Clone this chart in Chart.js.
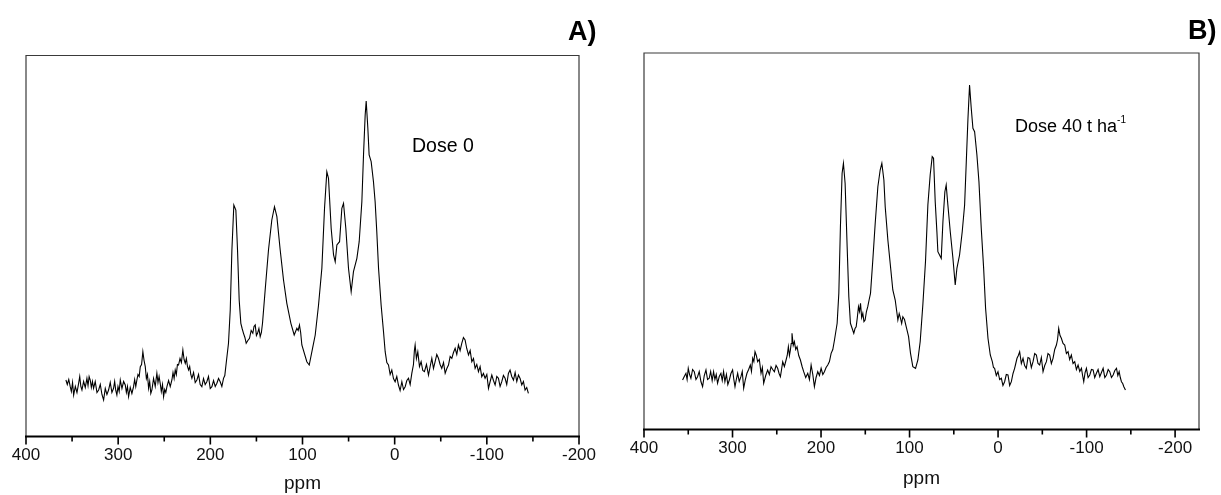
<!DOCTYPE html>
<html>
<head>
<meta charset="utf-8">
<script src="https://cdn.jsdelivr.net/npm/chart.js@4.4.0/dist/chart.umd.min.js"></script>
<style>
    body { margin: 0; background: #fff; }
    #wrap { position: relative; width: 1221px; height: 495px; font-family: "Liberation Sans", Arial, sans-serif; color: #000; }
    .panel { position: absolute; top: 0; height: 495px; }
    .note { position: absolute; white-space: nowrap; line-height: 1; }
    .tag { position: absolute; font-weight: bold; font-size: 27px; line-height: 1; }
    sup { font-size: 10px; vertical-align: 9px; }
</style>
</head>
<body>
<div id="wrap">
    <div class="panel" style="left:0;width:610px"><canvas id="chartA" width="610" height="495"></canvas></div>
    <div class="panel" style="left:610px;width:611px"><canvas id="chartB" width="611" height="495"></canvas></div>
    <div class="tag" style="left:568px;top:18px">A)</div>
    <div class="tag" style="left:1188px;top:17px">B)</div>
    <div class="note" style="left:412px;top:136px;font-size:19.5px">Dose 0</div>
    <div class="note" style="left:1015px;top:115px;font-size:18px">Dose 40 t ha<sup>-1</sup></div>
</div>
<script>
// x axis labels (ppm) and the shorter ticks between them
const xTicks = [400, 300, 200, 100, 0, -100, -200];
const xMinorTicks = [350, 250, 150, 50, -50, -150];

// panel A - Dose 0: [ppm, intensity (arbitrary units)]
const specA = [
    [356.7, 56.5], [355.2, 52], [353.6, 57], [352.0, 49.8], [350.8, 45], [349.5, 54], [348.3, 41.5], [346.5, 50], [344.7, 44], [342.9, 53.2],
    [341.7, 60], [340.5, 50], [339.3, 46.5], [337.5, 55], [335.7, 49], [333.9, 58.2], [332.7, 51], [331.5, 60], [330.3, 56.5], [329.1, 49],
    [327.9, 55], [326.7, 48.2], [324.9, 55], [323.0, 44], [321.2, 46.5], [319.4, 52], [317.6, 42], [315.8, 36.5], [314.0, 48], [312.2, 42],
    [310.4, 46.5], [308.6, 54], [306.8, 44], [305.0, 48.2], [303.8, 55], [302.6, 46], [301.4, 41.5], [300.2, 50], [298.9, 45], [297.7, 56.5],
    [295.9, 48], [294.1, 55], [292.3, 51.5], [291.1, 44], [289.9, 50], [288.7, 39.8], [286.9, 49], [285.1, 43], [283.3, 49.8], [282.1, 57],
    [280.9, 50], [279.7, 56.5], [278.5, 62], [277.2, 60], [276.0, 69.8], [274.6, 72], [273.2, 84.8], [271.9, 76], [270.6, 69.8], [269.4, 58],
    [268.2, 62], [267.0, 48.2], [265.8, 55], [264.6, 43], [263.4, 46.5], [261.6, 58], [259.8, 50], [258.0, 63.2], [256.8, 54], [255.6, 60],
    [254.4, 53.2], [253.2, 45], [251.9, 52], [250.7, 39.8], [249.5, 47], [248.3, 44], [247.1, 49.8], [245.3, 56], [243.5, 50], [241.7, 56.5],
    [240.5, 64], [239.3, 58], [238.1, 66.5], [236.9, 62], [235.7, 72], [234.5, 71.5], [232.9, 78], [231.4, 74], [229.8, 86.5], [228.5, 77],
    [227.2, 73.2], [226.0, 78], [224.8, 70], [223.6, 66.5], [222.4, 70], [221.2, 62], [220.0, 58.2], [218.2, 64], [216.4, 54], [214.6, 56.5],
    [212.8, 62], [211.0, 52], [209.2, 49.8], [207.4, 58], [205.6, 52], [203.8, 54.8], [202.0, 60], [200.1, 48], [198.3, 49.8], [196.5, 56],
    [194.7, 50], [192.9, 53.2], [191.1, 58], [189.3, 54.8], [187.5, 50], [185.7, 58.2], [184.3, 61], [182.8, 73.2], [180.3, 93.2], [178.4, 126.5],
    [176.6, 186.5], [174.5, 231.5], [172.3, 226.5], [170.5, 186.5], [168.7, 136.5], [166.9, 113.2], [165.5, 108], [164.0, 103.2], [162.5, 99], [161.1, 93.2],
    [159.3, 96], [157.5, 98.2], [155.7, 106], [153.9, 103.2], [152.6, 110], [151.3, 111.5], [150.0, 101], [148.8, 103.2], [147.3, 108], [145.9, 99.8],
    [144.6, 104], [143.4, 113.2], [140.5, 146.5], [136.9, 186.5], [133.3, 216.5], [130.4, 229.8], [127.8, 219.8], [124.2, 186.5], [120.6, 156.5], [117.0, 133.2],
    [112.6, 113.2], [109.0, 101.5], [106.1, 108.2], [104.7, 106], [103.3, 111.5], [102.0, 104], [100.7, 91.5], [95.3, 74.8], [92.7, 71.5], [89.1, 88.2],
    [86.2, 101.5], [82.6, 131.5], [79.0, 168.2], [76.1, 228.2], [73.6, 264.8], [71.8, 258.2], [68.9, 208.2], [66.3, 181.5], [64.5, 174.8], [62.7, 191.5],
    [59.8, 194.8], [57.3, 228.2], [55.5, 233.2], [53.0, 208.2], [50.1, 168.2], [47.2, 144.8], [44.7, 164.8], [41.0, 178.2], [38.5, 194.8], [35.6, 234.8],
    [33.8, 281.5], [32.0, 321.5], [30.9, 335.5], [29.1, 308.2], [27.7, 281.5], [25.5, 274.8], [23.0, 254.8], [21.2, 234.8], [19.4, 204.8], [17.5, 168.2],
    [14.7, 131.5], [12.1, 104.8], [10.3, 84.8], [8.5, 74], [6.7, 71.5], [4.9, 62], [3.1, 66.5], [1.3, 58], [-0.5, 54.8], [-2.3, 60],
    [-4.1, 51.5], [-5.9, 46], [-7.8, 54.8], [-9.6, 47], [-11.4, 49.8], [-13.2, 56], [-15.0, 58.2], [-16.8, 52], [-18.6, 63.2], [-20.4, 72],
    [-21.4, 86], [-22.2, 91.5], [-23.6, 78], [-25.1, 84.8], [-26.9, 70], [-28.7, 74.8], [-30.5, 66], [-32.3, 64.8], [-34.5, 72], [-36.7, 61.5],
    [-38.5, 70], [-40.3, 78.2], [-42.1, 68], [-43.9, 74.8], [-45.7, 82], [-47.5, 78.2], [-49.3, 72], [-51.1, 68.2], [-53.0, 74], [-54.8, 63.2],
    [-56.6, 68], [-58.4, 71.5], [-60.2, 80], [-62.0, 78.2], [-63.8, 84], [-65.6, 88.2], [-67.4, 82], [-69.2, 91.5], [-71.0, 86], [-72.8, 93.2],
    [-74.6, 99], [-76.4, 96.5], [-78.2, 88], [-80.1, 81.5], [-81.9, 86], [-83.7, 74.8], [-85.5, 78], [-87.3, 68.2], [-89.1, 72], [-90.9, 64.8],
    [-92.7, 70], [-94.5, 59.8], [-96.3, 63], [-98.1, 58.2], [-100.0, 62], [-101.8, 48.2], [-103.6, 55], [-105.4, 61.5], [-107.2, 56], [-109.0, 51.5],
    [-110.8, 60], [-112.6, 58.2], [-114.4, 50], [-116.2, 54.8], [-118.0, 61], [-119.8, 58.2], [-121.6, 52], [-123.4, 63], [-125.2, 66.5], [-127.0, 60],
    [-128.9, 56.5], [-130.7, 64], [-132.5, 55], [-134.3, 61.5], [-136.1, 58], [-137.9, 51.5], [-139.7, 55], [-141.5, 46.5], [-143.3, 49], [-145.1, 43.2]
];

// panel B - Dose 40 t ha-1: [ppm, intensity]
const specB = [
    [356.4, 49.5], [354.5, 53], [352.6, 56.2], [351.3, 50], [350.0, 61.2], [348.5, 55], [347.0, 51.2], [345.1, 60], [343.2, 57.8], [341.3, 50],
    [339.5, 52.8], [337.6, 58], [335.7, 48], [333.8, 42.8], [331.9, 54], [330.0, 59.5], [328.2, 50], [326.3, 51.2], [324.7, 58], [323.0, 49],
    [321.4, 57.8], [319.9, 50], [318.4, 55], [316.9, 46.2], [315.0, 53], [313.1, 56.2], [311.6, 49], [310.1, 58], [308.6, 47.8], [306.9, 55],
    [305.3, 45], [303.6, 49.5], [301.8, 56], [299.9, 59.5], [298.5, 50], [297.2, 42.8], [295.7, 50], [294.2, 56.2], [292.4, 48], [290.5, 52.8],
    [289.0, 58], [287.4, 41.2], [285.5, 50], [283.7, 56.2], [281.8, 60], [279.9, 64.5], [278.6, 58], [277.2, 71.2], [275.9, 68], [274.6, 77.8],
    [273.1, 74], [271.6, 67.8], [269.7, 70], [267.8, 56.2], [266.3, 62], [264.8, 46.2], [262.5, 54], [260.3, 59.5], [258.4, 55], [256.5, 62.8],
    [254.6, 60], [252.7, 57.8], [250.8, 64], [249.0, 61.2], [247.4, 56], [245.9, 52.8], [244.6, 60], [243.3, 67.8], [241.4, 63], [239.5, 69.5],
    [238.2, 74], [236.9, 82.8], [235.7, 74], [234.6, 79.5], [233.7, 86], [232.8, 96.2], [231.4, 84], [230.1, 87.8], [228.6, 80], [227.1, 82.8],
    [225.2, 74], [223.3, 69.5], [221.4, 63], [219.6, 57.8], [217.3, 52], [215.0, 56.2], [213.1, 50], [211.2, 64.5], [209.3, 55], [207.5, 42.8],
    [205.6, 52], [203.7, 57.8], [201.8, 54], [199.9, 61.2], [198.0, 55], [196.2, 57.8], [194.3, 62], [192.4, 64.5], [190.5, 68], [188.6, 76.2],
    [186.7, 80], [184.8, 89.5], [181.8, 106.2], [179.9, 136.2], [178.1, 202.8], [176.2, 256.2], [174.7, 266.2], [172.8, 246.2], [170.5, 182.8], [168.6, 132.8],
    [166.8, 106.2], [163.0, 96.2], [161.6, 101], [160.3, 102.8], [159.0, 112], [157.7, 122.8], [156.5, 118], [155.4, 126.2], [154.1, 112], [152.8, 116.2],
    [151.5, 108], [150.2, 109.5], [148.7, 118], [147.2, 122.8], [145.6, 130], [144.1, 136.2], [141.5, 169.5], [138.8, 206.2], [135.8, 242.8], [133.2, 259.5],
    [131.3, 266.2], [129.0, 249.5], [127.5, 222.8], [124.5, 189.5], [121.5, 162.8], [118.9, 139.5], [116.2, 129.5], [113.2, 109.5], [111.7, 116], [110.2, 111.2],
    [108.9, 106], [107.6, 112.8], [105.7, 110], [103.8, 102.8], [101.1, 92.8], [98.9, 76.2], [96.3, 62.8], [93.2, 61.2], [90.6, 69.5], [88.0, 87.8],
    [85.0, 124.5], [82.0, 167.8], [79.3, 224.5], [76.7, 254.5], [74.4, 272.8], [72.9, 271.2], [71.0, 227.8], [69.1, 197.8], [68.0, 177.8], [66.1, 174.5],
    [64.2, 171.2], [62.3, 207.8], [60.1, 237.8], [58.6, 244.5], [56.7, 224.5], [54.0, 197.8], [51.0, 171.2], [48.4, 144.5], [46.5, 161.2], [43.5, 174.5],
    [40.5, 197.8], [37.8, 224.5], [35.9, 267.8], [34.0, 311.2], [32.2, 344.5], [30.3, 321.2], [28.4, 301.2], [26.5, 297.8], [23.9, 274.5], [21.6, 247.8],
    [19.0, 201.2], [16.3, 161.2], [14.1, 121.2], [11.4, 91.2], [8.8, 74.5], [6.5, 67.8], [5.2, 62], [3.9, 61.2], [2.0, 54], [0.1, 57.8],
    [-1.8, 50], [-3.7, 51.2], [-5.5, 44], [-7.4, 47.8], [-9.3, 55], [-11.2, 54.5], [-13.1, 44], [-15.0, 47.8], [-16.9, 56], [-18.7, 61.2],
    [-20.0, 66], [-21.4, 71.2], [-22.9, 74], [-24.4, 77.8], [-26.3, 66], [-28.2, 71.2], [-30.0, 64], [-31.9, 61.2], [-33.8, 72], [-35.7, 71.2],
    [-37.6, 62], [-39.5, 67.8], [-41.4, 76], [-43.3, 74.5], [-45.1, 66], [-47.0, 64.5], [-48.9, 72], [-50.8, 57.8], [-52.7, 64], [-54.6, 67.8],
    [-56.4, 76], [-58.3, 74.5], [-60.2, 66], [-62.1, 71.2], [-64.0, 80], [-65.9, 84.5], [-67.2, 90], [-68.5, 101.2], [-70.0, 94], [-71.5, 91.2],
    [-73.4, 86], [-75.3, 84.5], [-77.2, 76], [-79.1, 77.8], [-80.9, 70], [-82.8, 74.5], [-84.7, 66], [-86.6, 67.8], [-88.5, 60], [-90.4, 64.5],
    [-92.3, 58], [-94.2, 61.2], [-95.5, 54], [-96.8, 47.8], [-98.3, 57], [-99.8, 61.2], [-101.7, 52], [-103.6, 54.5], [-105.5, 60], [-107.4, 59.5],
    [-109.2, 52], [-111.1, 56.2], [-113.0, 60], [-114.9, 52.8], [-116.8, 57], [-118.7, 61.2], [-120.6, 52], [-122.5, 54.5], [-124.4, 60], [-126.2, 57.8],
    [-128.1, 52], [-130.0, 54.5], [-131.9, 59], [-133.8, 61.2], [-135.3, 54], [-136.8, 57.8], [-138.1, 52], [-139.4, 47.8], [-140.8, 46], [-142.1, 42.8],
    [-143.9, 39.5]
];

// box round the plot area, thick bottom axis, long and short ticks
const framePlugin = {
    id: 'frame',
    afterDraw(chart) {
        const ctx = chart.ctx;
        const a = chart.chartArea;
        const x = chart.scales.x;
        ctx.save();
        ctx.strokeStyle = '#3a3a3a';
        ctx.lineWidth = 1.2;
        ctx.beginPath();
        ctx.moveTo(a.left, a.bottom);
        ctx.lineTo(a.left, a.top);
        ctx.lineTo(a.right, a.top);
        ctx.lineTo(a.right, a.bottom);
        ctx.stroke();
        ctx.strokeStyle = '#000';
        ctx.lineWidth = 2;
        ctx.beginPath();
        ctx.moveTo(a.left - 1, a.bottom);
        ctx.lineTo(a.right + 1, a.bottom);
        ctx.stroke();
        ctx.lineWidth = 1.6;
        ctx.beginPath();
        xTicks.forEach(v => {
            const px = x.getPixelForValue(v);
            ctx.moveTo(px, a.bottom);
            ctx.lineTo(px, a.bottom + 8);
        });
        xMinorTicks.forEach(v => {
            const px = x.getPixelForValue(v);
            ctx.moveTo(px, a.bottom);
            ctx.lineTo(px, a.bottom + 5);
        });
        ctx.stroke();
        ctx.restore();
    }
};

function makeSpectrum(id, spec, opts) {
    const points = spec.map(p => ({ x: p[0], y: p[1] }));
    return new Chart(document.getElementById(id), {
        type: 'scatter',
        data: {
            datasets: [{
                data: points,
                showLine: true,
                borderColor: '#000',
                borderWidth: 1.1,
                pointRadius: 0,
                tension: 0
            }]
        },
        options: {
            responsive: false,
            animation: false,
            layout: { padding: opts.padding },
            plugins: { legend: { display: false }, tooltip: { enabled: false } },
            scales: {
                x: {
                    type: 'linear',
                    reverse: true,
                    min: opts.xMin,
                    max: 400,
                    afterBuildTicks: s => { s.ticks = xTicks.map(v => ({ value: v })); },
                    afterFit: s => { s.height = opts.axisHeight; },
                    grid: { drawOnChartArea: false, tickLength: 8, tickColor: 'rgba(0,0,0,0)' },
                    border: { display: false },
                    ticks: {
                        autoSkip: false,
                        maxRotation: 0,
                        padding: 1,
                        color: '#111',
                        font: { family: '"Liberation Sans", Arial, sans-serif', size: 17 }
                    },
                    title: {
                        display: true,
                        text: 'ppm',
                        color: '#111',
                        padding: { top: 0, bottom: opts.titlePad },
                        font: { family: '"Liberation Sans", Arial, sans-serif', size: 19 }
                    }
                },
                y: {
                    display: false,
                    min: 0,
                    max: opts.yMax
                }
            }
        },
        plugins: [framePlugin]
    });
}

makeSpectrum('chartA', specA, {
    padding: { left: 26, top: 55.5, right: 31, bottom: 0 },
    axisHeight: 58.5, titlePad: 0, xMin: -200, yMax: 381
});
makeSpectrum('chartB', specB, {
    padding: { left: 34, top: 53, right: 22, bottom: 0 },
    axisHeight: 65.5, titlePad: 5, xMin: -227, yMax: 376.5
});
</script>
</body>
</html>
